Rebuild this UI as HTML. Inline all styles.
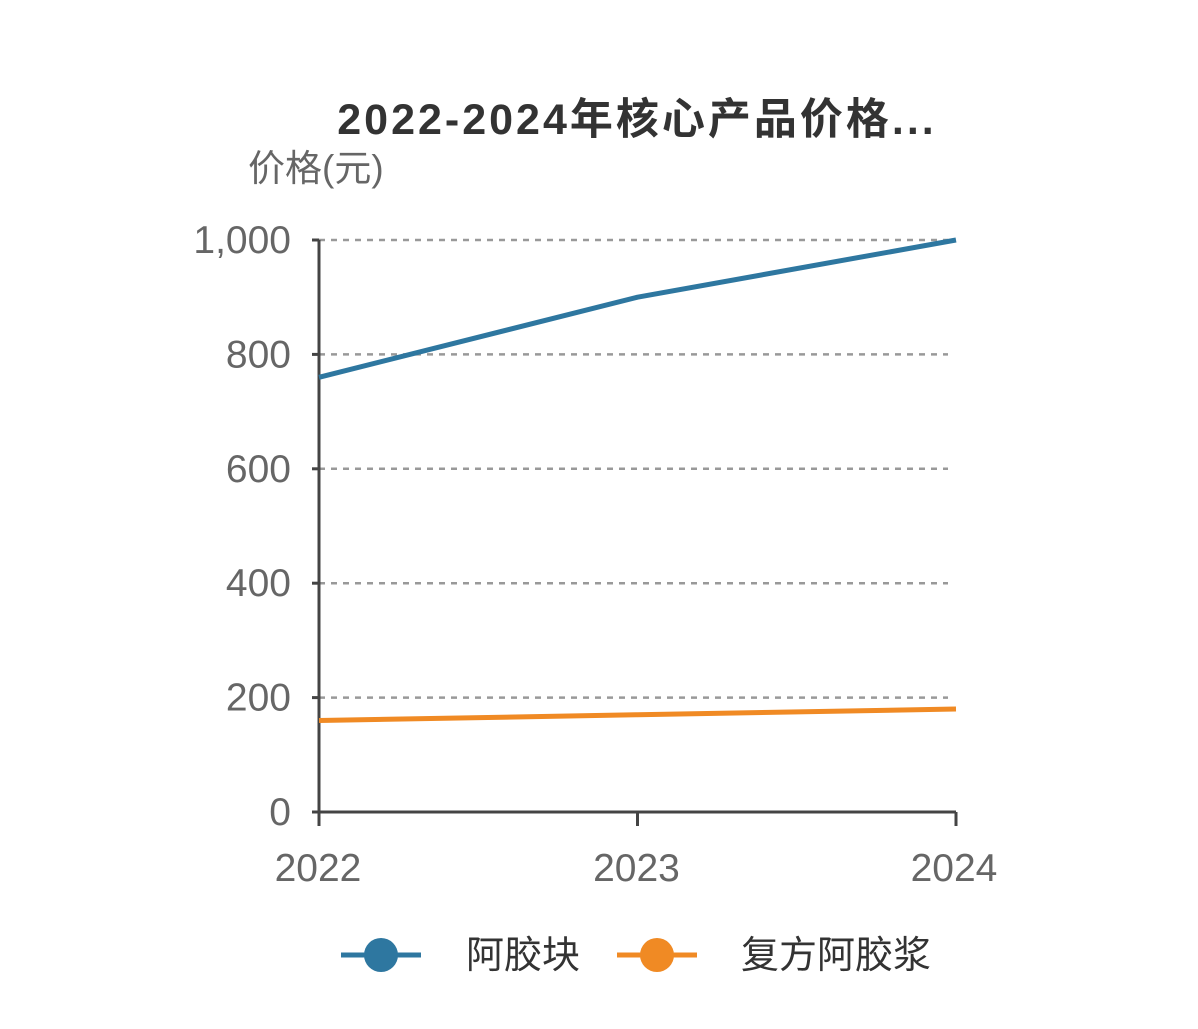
<!DOCTYPE html>
<html><head><meta charset="utf-8"><style>
html,body{margin:0;padding:0;background:#fff;}
svg{display:block;font-family:"Liberation Sans","Noto Sans CJK SC",sans-serif;}
</style></head><body>
<svg id="chart" width="1198" height="1029">
<text x="637" y="134" text-anchor="middle" font-size="43" font-weight="bold" fill="#333" letter-spacing="3">2022-2024年核心产品价格...</text>
<text x="248" y="181" font-size="37" fill="#666">价格(元)</text>
<g id="grid"></g><g id="axes"></g><g id="series"></g>
<g>
<g>
<line x1="341" y1="955" x2="421" y2="955" stroke="#2e77a0" stroke-width="5"/>
<circle cx="381" cy="955" r="17" fill="#2e77a0"/>
<text x="466" y="968" font-size="38" fill="#333">阿胶块</text></g>
<g>
<line x1="617" y1="955" x2="697" y2="955" stroke="#f08a24" stroke-width="5"/>
<circle cx="657" cy="955" r="17" fill="#f08a24"/>
<text x="741" y="968" font-size="38" fill="#333">复方阿胶浆</text></g>
</g>
</svg>
<script>
const years=["2022","2023","2024"];
const ajiaoBlock=[760,900,1000];
const compoundSyrup=[160,170,180];
const yTicks=[0,200,400,600,800,1000];
const yTickLabels=["0","200","400","600","800","1,000"];
const NS="http://www.w3.org/2000/svg";
const x0=319,x1=956,yb=812,yt=240;
const xs=i=>x0+(x1-x0)*i/(years.length-1);
const ys=v=>yb-(yb-yt)*v/1000;
function mk(tag,attrs,parent,txt){const e=document.createElementNS(NS,tag);for(const k in attrs)e.setAttribute(k,attrs[k]);if(txt!==undefined)e.textContent=txt;parent.appendChild(e);return e;}
const grid=document.getElementById('grid'),axes=document.getElementById('axes'),ser=document.getElementById('series');
yTicks.forEach((v,i)=>{
 if(v>0){const g=mk('line',{x1:x0,x2:948,y1:ys(v),y2:ys(v),stroke:'#999','stroke-width':2.5,'stroke-dasharray':'6 6'},grid);
 
 }
 const t=mk('line',{x1:312,x2:x0,y1:ys(v),y2:ys(v),stroke:'#444','stroke-width':3},axes);
 
 
 const l=mk('text',{x:291,y:ys(v)+13,'text-anchor':'end','font-size':39,fill:'#666'},axes,yTickLabels[i]);
 
 
});
const ya=mk('line',{x1:x0,x2:x0,y1:yt,y2:yb,stroke:'#444','stroke-width':3},axes);


const xa=mk('line',{x1:312,x2:x1,y1:yb,y2:yb,stroke:'#444','stroke-width':3},axes);


years.forEach((y,i)=>{
 const t=mk('line',{x1:xs(i),x2:xs(i),y1:yb,y2:826,stroke:'#444','stroke-width':3},axes);
 
 
 const l=mk('text',{x:xs(i)+(i===2?-2:-1),y:881,'text-anchor':'middle','font-size':39,fill:'#666'},axes,y);
 
 
});
function line(data,color,name){
 const p=mk('polyline',{points:data.map((v,i)=>xs(i)+','+ys(v)).join(' '),fill:'none',stroke:color,'stroke-width':5,'stroke-linejoin':'round'},ser);
 
 
}
line(ajiaoBlock,'#2e77a0','series-ajiao-block');
line(compoundSyrup,'#f08a24','series-compound-ajiao-syrup');
</script>
</body></html>
